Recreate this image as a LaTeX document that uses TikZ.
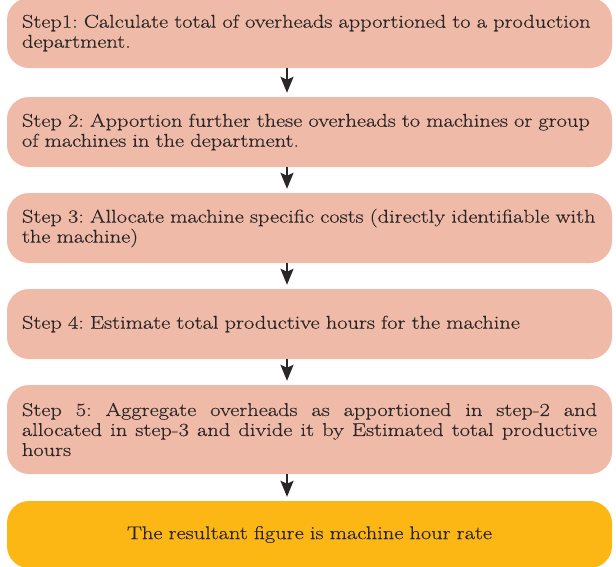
\documentclass[tikz,border=0pt]{standalone}
\usepackage{fontspec}
\setmainfont{Latin Modern Roman}[FakeStretch=1.21, FakeBold=0.4]
\usetikzlibrary{arrows.meta}
\definecolor{stepfill}{HTML}{EFBAA8}
\definecolor{resultfill}{HTML}{FCB715}
\definecolor{inktext}{HTML}{2A2626}
\frenchspacing
\begin{document}
\begin{tikzpicture}[x=1pt,y=1pt,
  stepbox/.style={fill=stepfill, draw=none, rounded corners=22pt,
    minimum width=605pt, text width=575pt, inner xsep=15pt, inner ysep=0pt,
    align=left, text=inktext, font=\fontsize{18.5}{20}\selectfont},
  resultbox/.style={stepbox, fill=resultfill, align=center},
  flow/.style={-{Stealth[length=16pt,width=13pt,inset=3pt]}, line width=2pt,
    draw=inktext, shorten >=4pt}]
\useasboundingbox (0,0) rectangle (616,-566);
\coordinate (ax) at (287,0);

\node[stepbox, minimum height=70pt] (s1) at (309.5,-33)
  {Step1: Calculate total of overheads apportioned to a production\\department.};
\node[stepbox, minimum height=70pt] (s2) at (309.5,-132)
  {Step 2: Apportion further these overheads to machines or group\\of machines in the department.};
\node[stepbox, minimum height=70pt] (s3) at (309.5,-228)
  {Step 3: Allocate machine specific costs (directly identifiable with\\the machine)};
\node[stepbox, minimum height=70pt] (s4) at (309.5,-324)
  {Step 4: Estimate total productive hours for the machine};
\node[stepbox, minimum height=89pt, align=justify] (s5) at (309.5,-429.5)
  {Step 5: Aggregate overheads as apportioned in step-2 and\linebreak allocated in step-3 and divide it by Estimated total productive\linebreak hours};
\node[resultbox, minimum height=67pt] (s6) at (309.5,-534.5)
  {The resultant figure is machine hour rate};

\draw[flow] (s1.south -| ax) -- (s2.north -| ax);
\draw[flow] (s2.south -| ax) -- (s3.north -| ax);
\draw[flow] (s3.south -| ax) -- (s4.north -| ax);
\draw[flow] (s4.south -| ax) -- (s5.north -| ax);
\draw[flow] (s5.south -| ax) -- (s6.north -| ax);
\end{tikzpicture}
\end{document}
